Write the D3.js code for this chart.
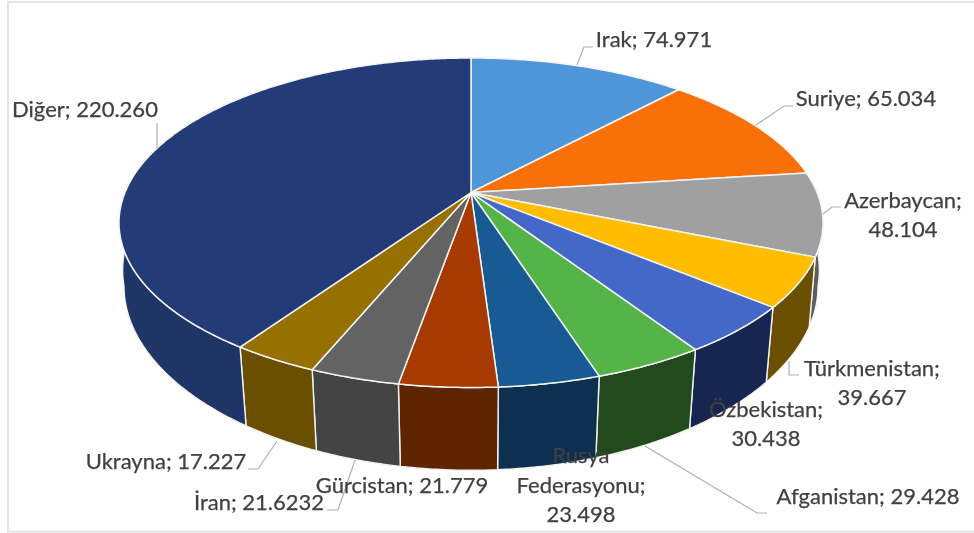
<!DOCTYPE html>
<html lang="tr">
<head>
    <meta charset="UTF-8">
    <title>Pasta grafik</title>
    <style>
        body { margin: 0; background: #fff; overflow: hidden; }
        svg { display: block; filter: blur(0.35px); }
        text { font-family: Lato, 'Open Sans', sans-serif; font-size: 22px; fill: #404040; stroke: #404040; stroke-width: 0.25px; text-anchor: middle; }
    </style>
</head>
<body>
    <svg width="974" height="533"></svg>
    <script src="https://d3js.org/d3.v7.min.js"></script>
    <script>
        const categories = ["Irak", "Suriye", "Azerbaycan", "Türkmenistan", "Özbekistan", "Afganistan",
            "Rusya Federasyonu", "Gürcistan", "İran", "Ukrayna", "Diğer"];
        // printed data labels, kept as they are written in the chart
        const printedValues = ["74.971", "65.034", "48.104", "39.667", "30.438", "29.428",
            "23.498", "21.779", "21.6232", "17.227", "220.260"];
        // slice sizes in degrees as drawn: they do not quite follow the printed labels
        const drawnDegrees = [42.9, 39.9, 29.4, 17.4, 17.1, 15.5, 14.1, 13.6, 12.5, 12.1, 145.5];
        const topColors = ["#4e96d8", "#f97008", "#a0a0a0", "#ffbd00", "#4368c8", "#55b447",
            "#185a94", "#a63a00", "#636363", "#967000", "#233c78"];
        const sideColors = ["#2f5a82", "#954304", "#5c5c5c", "#6b4f00", "#172650", "#234a1c",
            "#0d2f50", "#5e2500", "#444444", "#6b4f00", "#1f3566"];

        // label lines (centre x, baselines), one entry per category, and leader polylines
        const labelLines = [
            [[654, 46.5, "Irak; 74.971"]],
            [[866, 106, "Suriye; 65.034"]],
            [[903, 208, "Azerbaycan;"], [903, 237, "48.104"]],
            [[872, 376, "Türkmenistan;"], [872, 405, "39.667"]],
            [[766, 417, "Özbekistan;"], [766, 446, "30.438"]],
            [[868, 504, "Afganistan; 29.428"]],
            [[581, 463, "Rusya"], [581, 493, "Federasyonu;"], [581, 522, "23.498"]],
            [[402, 493, "Gürcistan; 21.779"]],
            [[259, 510, "İran; 21.6232"]],
            [[166, 469, "Ukrayna; 17.227"]],
            [[85, 116.5, "Diğer; 220.260"]]
        ];
        const leaders = [
            [[593, 47], [584, 47], [577, 65]],
            [[793, 106], [784, 106], [756, 125]],
            [[841, 207], [832, 207], [823, 214]],
            [[789, 361], [789, 375], [799, 375]],
            [[645, 446], [757, 513], [767, 513]],
            [[277, 441], [258, 469], [248, 469]],
            [[355, 460], [338, 510], [327, 510]],
            [[157, 123], [157, 148]]
        ];

        const svg = d3.select("svg");

        // frame of the pasted picture
        svg.append("rect").attr("x", 8).attr("y", 2).attr("width", 980).attr("height", 529.5)
            .attr("fill", "none").attr("stroke", "#e4e4e4").attr("stroke-width", 2);

        // perspective of the pie disc
        const cx = 471, cy = 192.5, persp = -0.1836, yGain = 123.85, radius = 346;
        // the lower rim narrows towards the viewer
        const wallShrink = d3.scaleLinear().domain([190, 220, 350]).range([1.005, 0.986, 0.974]).clamp(true);
        const wallY = d3.scaleLinear().domain([300, 400]).range([374, 484]);

        function rim(t) {
            const u = Math.sin(t), v = -Math.cos(t), w = 1 + persp * v;
            return [cx + radius * u / w, (yGain * v + cy) / w];
        }
        function rimLow(t) {
            const p = rim(t);
            return [cx + (p[0] - cx) * wallShrink(p[1]), wallY(p[1])];
        }
        function steps(a, b) {
            const n = Math.max(2, Math.ceil((b - a) / 0.01));
            return d3.range(n + 1).map(i => a + (b - a) * i / n);
        }

        const pie = d3.pie().sort(null).value(d => d);
        const arcs = pie(drawnDegrees);
        const line = d3.line();

        // front wall only shows between these angles
        const wallFrom = 90 * Math.PI / 180, wallTo = 270 * Math.PI / 180;

        svg.append("g").selectAll("path")
            .data(arcs.filter(d => d.endAngle > wallFrom && d.startAngle < wallTo))
            .enter().append("path")
            .attr("fill", d => sideColors[d.index])
            .attr("stroke", "#f2f2f2")
            .attr("stroke-width", 1.4)
            .attr("stroke-linejoin", "round")
            .attr("d", d => {
                const ts = steps(Math.max(d.startAngle, wallFrom), Math.min(d.endAngle, wallTo));
                return line(ts.map(rim).concat(ts.slice().reverse().map(rimLow))) + "Z";
            });

        svg.append("g").selectAll("path")
            .data(arcs)
            .enter().append("path")
            .attr("fill", d => topColors[d.index])
            .attr("stroke", "#f4f4f4")
            .attr("stroke-width", 1.5)
            .attr("stroke-linejoin", "round")
            .attr("d", d => line([[cx, cy]].concat(steps(d.startAngle, d.endAngle).map(rim))) + "Z");

        svg.append("g").selectAll("polyline")
            .data(leaders)
            .enter().append("polyline")
            .attr("points", d => d.join(" "))
            .attr("fill", "none")
            .attr("stroke", "#b0b0b0")
            .attr("stroke-width", 1.2);

        svg.append("g").selectAll("text")
            .data(labelLines.flat())
            .enter().append("text")
            .attr("x", d => d[0])
            .attr("y", d => d[1])
            .text(d => d[2]);
    </script>
</body>
</html>
